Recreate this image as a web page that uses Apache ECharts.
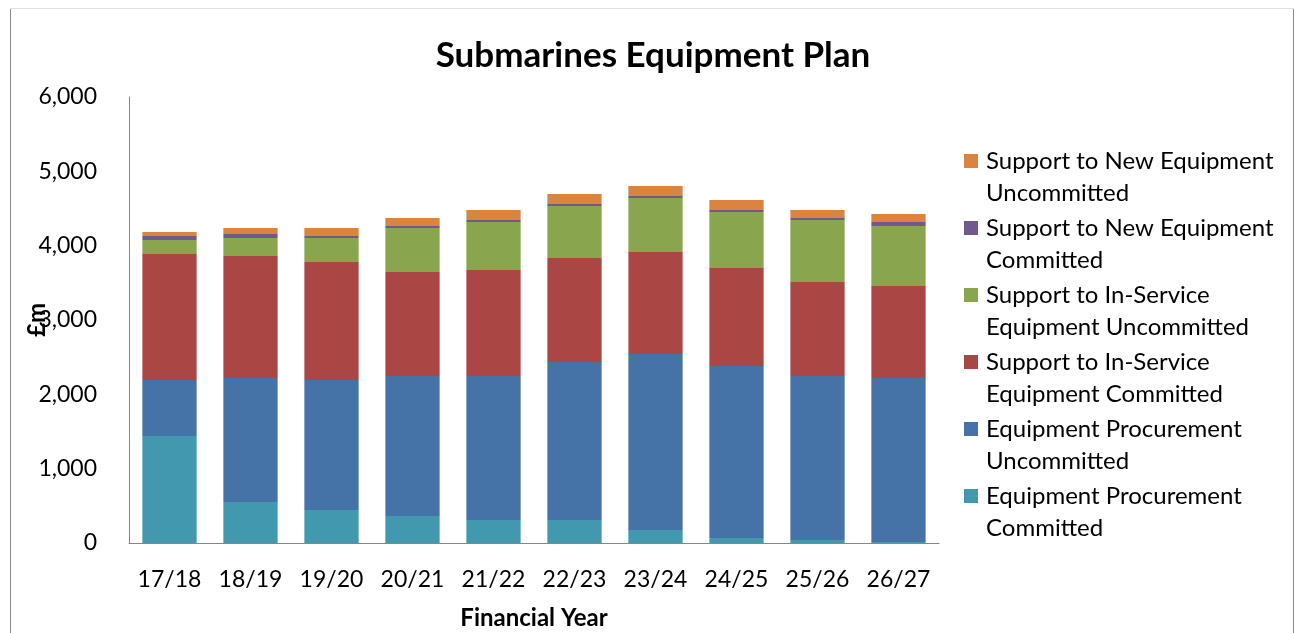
<!DOCTYPE html>
<html><head><meta charset="utf-8">
<script src="https://cdn.jsdelivr.net/npm/echarts@6/dist/echarts.min.js"></script>
<style>html,body{margin:0;padding:0;background:#fff}#c{width:1300px;height:633px}</style>
</head><body><div id="c"></div>
<script>
const categories = ['17/18','18/19','19/20','20/21','21/22','22/23','23/24','24/25','25/26','26/27'];
const epCommitted     = [1440, 552, 444, 363, 309, 309, 175, 67, 40, 13];
const epUncommitted   = [753, 1668, 1749, 1884, 1938, 2126, 2368, 2314, 2207, 2207];
const sisCommitted    = [1695, 1641, 1587, 1399, 1426, 1399, 1372, 1319, 1264, 1238];
const sisUncommitted  = [188, 242, 323, 592, 646, 700, 726, 753, 834, 807];
const sneCommitted    = [54, 54, 27, 27, 26, 27, 27, 27, 27, 54];
const sneUncommitted  = [54, 81, 108, 107, 135, 134, 135, 135, 108, 107];
const seriesNames = [
  'Equipment Procurement\nCommitted',
  'Equipment Procurement\nUncommitted',
  'Support to In-Service\nEquipment Committed',
  'Support to In-Service\nEquipment Uncommitted',
  'Support to New Equipment\nCommitted',
  'Support to New Equipment\nUncommitted'
];
const seriesValues = [epCommitted, epUncommitted, sisCommitted, sisUncommitted, sneCommitted, sneUncommitted];
const colors = ['#4198AF', '#4572A7', '#AA4643', '#89A54E', '#71588F', '#DB843D'];
const FONT = 'Lato';

const chart = echarts.init(document.getElementById('c'), null, {renderer: 'canvas'});
chart.setOption({
  backgroundColor: '#fff',
  animation: false,
  textStyle: {fontFamily: FONT},
  title: {
    text: 'Submarines Equipment Plan',
    left: 648, top: 33, textAlign: 'center',
    textStyle: {fontFamily: FONT, fontSize: 35, fontWeight: 'bold', color: '#000'}
  },
  graphic: [
    {type: 'line', shape: {x1: 10.5, y1: 8, x2: 10.5, y2: 640}, style: {stroke: '#8c8c8c', lineWidth: 1}},
    {type: 'line', shape: {x1: 1293.5, y1: 8, x2: 1293.5, y2: 640}, style: {stroke: '#8c8c8c', lineWidth: 1}},
    {type: 'line', shape: {x1: 10, y1: 8.5, x2: 1294, y2: 8.5}, style: {stroke: '#e0e0e0', lineWidth: 1}}
  ],
  legend: {
    orient: 'vertical',
    left: 964, top: 145,
    padding: 0,
    itemGap: 3,
    itemWidth: 14, itemHeight: 46,
    icon: 'path://M0,0h10v10h-10zM0,32.86',
    data: seriesNames.slice().reverse(),
    textStyle: {fontFamily: FONT, fontSize: 24, color: '#000', lineHeight: 32, padding: [0, 0, 0, 3]}
  },
  grid: {left: 129, right: 361, top: 97, bottom: 90, containLabel: false, outerBoundsMode: 'none'},
  xAxis: {
    type: 'category',
    data: categories,
    name: 'Financial Year',
    nameLocation: 'middle',
    nameGap: 63,
    nameMoveOverlap: false,
    nameTextStyle: {fontFamily: FONT, fontSize: 24, fontWeight: 'bold', color: '#000'},
    axisLine: {lineStyle: {color: '#868686', width: 1}},
    axisTick: {show: false},
    axisLabel: {fontFamily: FONT, fontSize: 23, color: '#000', margin: 25, interval: 0, hideOverlap: false}
  },
  yAxis: {
    type: 'value',
    min: 0, max: 6000, interval: 1000,
    name: '£m',
    nameLocation: 'middle',
    nameGap: 80,
    nameMoveOverlap: false,
    nameTextStyle: {fontFamily: FONT, fontSize: 24, fontWeight: 'bold', color: '#000'},
    axisLine: {show: true, lineStyle: {color: '#868686', width: 1}},
    axisTick: {show: false},
    splitLine: {show: false},
    axisLabel: {
      fontFamily: FONT, fontSize: 23, color: '#000', margin: 32,
      formatter: v => v.toLocaleString('en-US')
    }
  },
  series: seriesValues.map((vals, i) => ({
    name: seriesNames[i],
    type: 'bar',
    stack: 'total',
    data: vals,
    barCategoryGap: '33%',
    itemStyle: {color: colors[i]}
  }))
});
</script></body></html>
